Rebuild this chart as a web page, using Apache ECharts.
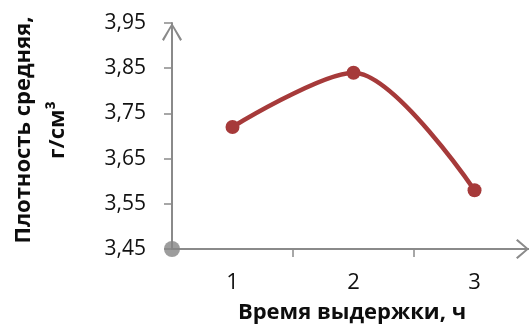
<!DOCTYPE html>
<html>
<head>
<meta charset="utf-8">
<style>
  html, body { margin: 0; padding: 0; background: #ffffff; }
  #chart { width: 529px; height: 331px; }
</style>
<script src="https://cdn.jsdelivr.net/npm/echarts@6/dist/echarts.min.js"></script>
</head>
<body>
<div id="chart"></div>
<script>
// Holding time, h
const hours = [1, 2, 3];
// Mean density, g/cm3
const density = [3.72, 3.84, 3.58];
// Y scale and its tick values
const yMin = 3.45;
const yMax = 3.95;
const yStep = 0.1;
// X scale: category centres sit on integers, separators between them
const xMin = 0.5;
const xMax = 3.45;
const xTickValues = [1.5, 2.5];
const xLabelValues = [1, 2, 3];

const axisGrey = '#8a8a8a';
const lineRed = '#a63a3a';
const font = '"Open Sans", "DejaVu Sans", sans-serif';

// Open chevron arrows for the axis ends (drawn pointing up; ECharts rotates them)
const arrowY = 'path://M10,0 L20,16.5 L18.2,18 L10,3.2 L1.8,18 L0,16.5 Z';
const arrowX = 'path://M10,0 L20,11.5 L18.4,13 L10,2.8 L1.6,13 L0,11.5 Z';

const chart = echarts.init(document.getElementById('chart'), null, { renderer: 'canvas' });

chart.setOption({
  animation: false,
  backgroundColor: '#ffffff',
  grid: {
    left: 172, right: 0, top: 23, bottom: 82,
    containLabel: false,
    outerBoundsMode: 'none'
  },
  xAxis: {
    type: 'value',
    min: xMin,
    max: xMax,
    name: 'Время выдержки, ч',
    nameLocation: 'middle',
    nameGap: 53,
    nameTextStyle: { fontFamily: font, fontSize: 22, fontWeight: 'bold', color: '#0d0d0d', padding: [0, 0, 0, 3] },
    axisLine: {
      show: true,
      symbol: ['none', arrowX],
      symbolSize: [20, 13],
      symbolOffset: [0, -6.5],
      lineStyle: { color: axisGrey, width: 2 }
    },
    axisTick: {
      show: true,
      inside: false,
      length: 8,
      customValues: xTickValues,
      lineStyle: { color: axisGrey, width: 1.5 }
    },
    axisLabel: {
      show: true,
      customValues: xLabelValues,
      margin: 23,
      fontFamily: font,
      fontSize: 22,
      color: '#111'
    },
    splitLine: { show: false }
  },
  yAxis: {
    type: 'value',
    min: yMin,
    max: yMax,
    interval: yStep,
    name: 'Плотность средняя,\nг/см³',
    nameLocation: 'middle',
    nameRotate: 90,
    nameGap: 97,
    nameTextStyle: {
      fontFamily: font, fontSize: 22, fontWeight: 'bold', color: '#0d0d0d',
      lineHeight: 34, align: 'center', padding: [0, 0, 0, 12]
    },
    axisLine: {
      show: true,
      symbol: ['none', arrowY],
      symbolSize: [20, 18],
      symbolOffset: [0, -9],
      lineStyle: { color: axisGrey, width: 2 }
    },
    axisTick: {
      show: true,
      inside: false,
      length: 8,
      lineStyle: { color: axisGrey, width: 1.5 }
    },
    axisLabel: {
      show: true,
      margin: 26,
      fontFamily: font,
      fontSize: 21,
      color: '#111',
      formatter: v => v.toFixed(2).replace('.', ',')
    },
    splitLine: { show: false }
  },
  series: [
    {
      type: 'line',
      smooth: 0.3,
      data: hours.map((h, i) => [h, density[i]]),
      lineStyle: { color: lineRed, width: 4.5 },
      itemStyle: { color: lineRed },
      symbol: 'circle',
      symbolSize: 14,
      showSymbol: true,
      z: 5
    },
    {
      // origin marker where the two axes meet
      type: 'scatter',
      data: [[xMin, yMin]],
      symbol: 'circle',
      symbolSize: 16,
      itemStyle: { color: '#858585' },
      clip: false,
      z: 6
    }
  ]
});
</script>
</body>
</html>
